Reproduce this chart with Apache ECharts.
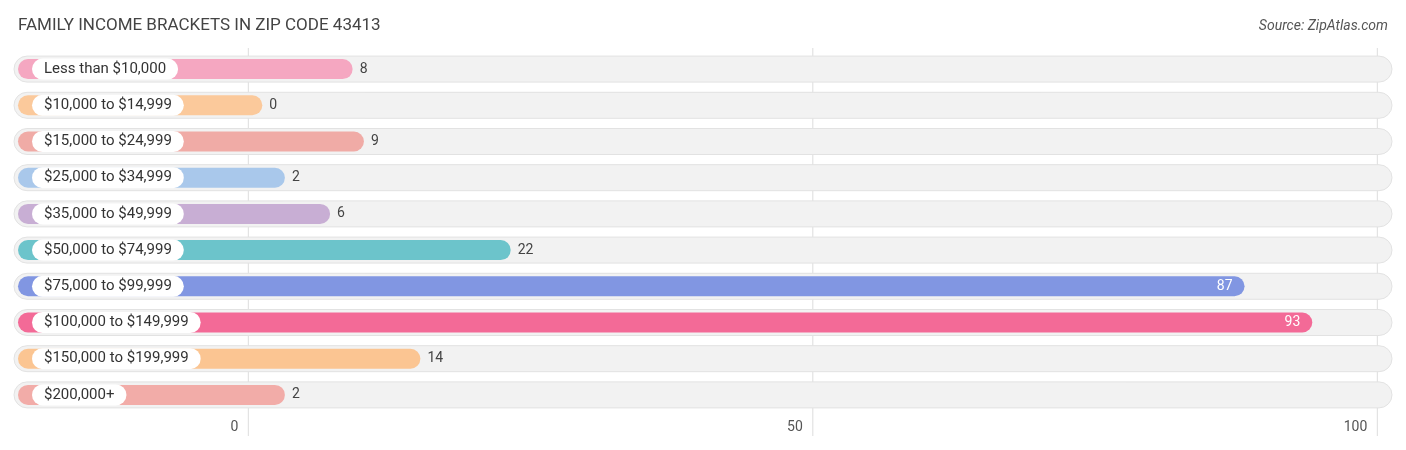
<!DOCTYPE html><html><head><meta charset="utf-8"><script src="https://cdn.jsdelivr.net/npm/echarts@6/dist/echarts.min.js"></script>
<style>body{margin:0}#c{width:1406px;height:450px}</style></head><body><div id="c"></div><script>
const categories=["Less than $10,000","$10,000 to $14,999","$15,000 to $24,999","$25,000 to $34,999","$35,000 to $49,999","$50,000 to $74,999","$75,000 to $99,999","$100,000 to $149,999","$150,000 to $199,999","$200,000+"];
const values=[8,0,9,2,6,22,87,93,14,2];
const colors=["#f5a7c1","#fbc99b","#f0aba6","#a9c8eb","#c8aed4","#6cc4cb","#8196e2","#f36a97","#fbc592","#f2aca8"];
const ticks=[0,50,100];
const MIN=-20.4,MAX=101.3;
const chart=echarts.init(document.getElementById('c'));
chart.setOption({
title:[{text:"FAMILY INCOME BRACKETS IN ZIP CODE 43413",left:13,top:12,textStyle:{fontFamily:"Roboto",fontSize:17,fontWeight:"normal",color:"#444"}},
{text:"Source: ZipAtlas.com",right:13,top:14,textStyle:{fontFamily:"Roboto",fontSize:14,fontWeight:"normal",fontStyle:"italic",color:"#555"}}],
grid:{left:18,right:14,top:51,height:362},
xAxis:{type:"value",min:MIN,max:MAX,show:false},
yAxis:{type:"category",data:categories,inverse:true,show:false},
series:[
{type:"custom",silent:true,data:ticks.map(t=>[t]),z:1,renderItem(p,api){const x=api.coord([api.value(0),0])[0];
 return {type:"group",children:[{type:"line",shape:{x1:x,y1:48,x2:x,y2:436},style:{stroke:"#ddd",lineWidth:1}},
 {type:"text",style:{text:String(api.value(0)),x:x-10,y:427,align:"right",verticalAlign:"middle",fontFamily:"Roboto",fontSize:14,fill:"#555"}}]};}},
{type:"custom",silent:true,z:2,data:categories.map((c,i)=>[i]),renderItem(p,api){const y=api.coord([0,api.value(0)])[1];
 const x0=api.coord([MIN,0])[0],x1=api.coord([MAX,0])[0];
 return {type:"rect",shape:{x:x0-4,y:y-13,width:x1-x0+4,height:26,r:13},style:{fill:"#f2f2f2",stroke:"#e2e2e2",lineWidth:1}};}},
{type:"custom",silent:true,z:3,data:values.map((v,i)=>[v,i]),renderItem(p,api){const i=api.value(1),v=api.value(0);
 const y=api.coord([0,i])[1];const x0=api.coord([MIN,0])[0];const xv=api.coord([v,0])[0]+14;
 const inside=v>50;
 return {type:"group",children:[
 {type:"rect",shape:{x:x0,y:y-10,width:xv-x0,height:20,r:10},style:{fill:colors[i]}},
 {type:"text",style:{text:categories[i],x:32,y:y,verticalAlign:"middle",fontFamily:"Roboto",fontSize:15,fill:"#333",backgroundColor:"#fff",padding:[3,12,3,12],borderRadius:11}},
 {type:"text",style:{text:String(v),x:inside?xv-12:xv+7,y:y,align:inside?"right":"left",verticalAlign:"middle",fontFamily:"Roboto",fontSize:14,fill:inside?"#fff":"#444"}}]};}}
]});
</script></body></html>
